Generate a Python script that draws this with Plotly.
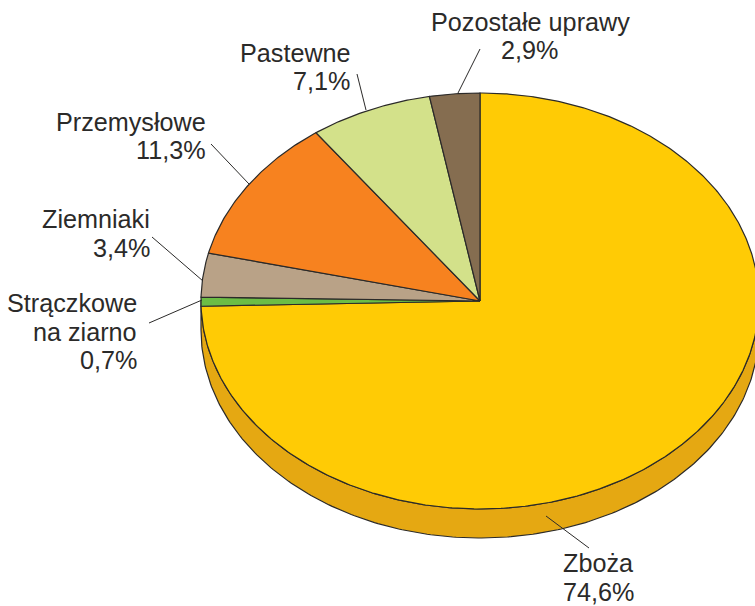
import numpy as np
import plotly.graph_objects as go

categories = ["Zboża", "Strączkowe na ziarno", "Ziemniaki", "Przemysłowe", "Pastewne", "Pozostałe uprawy"]
values = [74.6, 0.7, 3.4, 11.3, 7.1, 2.9]
colors = ["#FFCB05", "#6CBD45", "#B9A287", "#F7821F", "#D3E18A", "#856D50"]

CX, CY, RX, RY, DEPTH = 480, 301, 279, 208, 29
W, H = 755, 606
EDGE = "#2B2A29"
WALL = "#E5A812"
FONT = "Liberation Sans, Arial, sans-serif"
TEXT = "#2B2A29"
SIZE = 25.2

# (text, x, y, anchor)
label_lines = [
    ("Pozostałe uprawy", 530, 22, "center"), ("2,9%", 529, 50, "center"),
    ("Pastewne", 351.5, 53, "right"), ("7,1%", 351, 81, "right"),
    ("Przemysłowe", 207, 122, "right"), ("11,3%", 207, 150, "right"),
    ("Ziemniaki", 150.5, 219, "right"), ("3,4%", 150.5, 248, "right"),
    ("Strączkowe", 137.5, 303, "right"), ("na ziarno", 137.5, 332, "right"), ("0,7%", 137.5, 360, "right"),
    ("Zboża", 598, 563, "center"), ("74,6%", 598, 592, "center"),
]
leaders = [
    ((480, 49), (458, 93)), ((357, 74), (366, 110)), ((211, 144), (249, 184)),
    ((152, 237), (203, 281)), ((149, 323), (202, 300)), ((546, 516), (589, 548)),
]


def arc(a0, a1, dy=0.0, n=240):
    t = np.radians(np.linspace(a0, a1, n))
    return CX + RX * np.sin(t), CY + dy - RY * np.cos(t)


fig = go.Figure()

# side wall of the disc
x1, y1 = arc(90, 270)
x2, y2 = arc(270, 90, DEPTH)
fig.add_trace(go.Scatter(x=np.r_[x1, x2, x1[0]], y=np.r_[y1, y2, y1[0]], mode="lines", fill="toself",
                         fillcolor=WALL, line=dict(color=EDGE, width=1.2), hoverinfo="skip", showlegend=False))

# top face wedges, clockwise from twelve o'clock
start = 0.0
for name, v, c in zip(categories, values, colors):
    end = start + v / sum(values) * 360
    ax, ay = arc(start, end, n=max(int(end - start) * 2, 6))
    fig.add_trace(go.Scatter(x=np.r_[CX, ax, CX], y=np.r_[CY, ay, CY], mode="lines", fill="toself",
                             fillcolor=c, line=dict(color=EDGE, width=1.2), name=name,
                             hoverinfo="skip", showlegend=False))
    start = end

for (p, q) in leaders:
    fig.add_trace(go.Scatter(x=[p[0], q[0]], y=[p[1], q[1]], mode="lines",
                             line=dict(color=EDGE, width=1), hoverinfo="skip", showlegend=False))

for txt, x, y, anc in label_lines:
    fig.add_annotation(x=x, y=y, xref="x", yref="y", text=txt, showarrow=False, xanchor=anc, yanchor="middle",
                       borderpad=0, font=dict(family=FONT, size=SIZE, color=TEXT))

fig.update_layout(
    width=W, height=H, autosize=False, margin=dict(l=0, r=0, t=0, b=0),
    paper_bgcolor="white", plot_bgcolor="white", showlegend=False,
    xaxis=dict(range=[0, W], visible=False, fixedrange=True),
    yaxis=dict(range=[H, 0], visible=False, fixedrange=True),
)
fig.write_html("out.html", config={"displayModeBar": False},
               post_script="document.body.style.margin='0';document.documentElement.style.overflow='hidden';")
